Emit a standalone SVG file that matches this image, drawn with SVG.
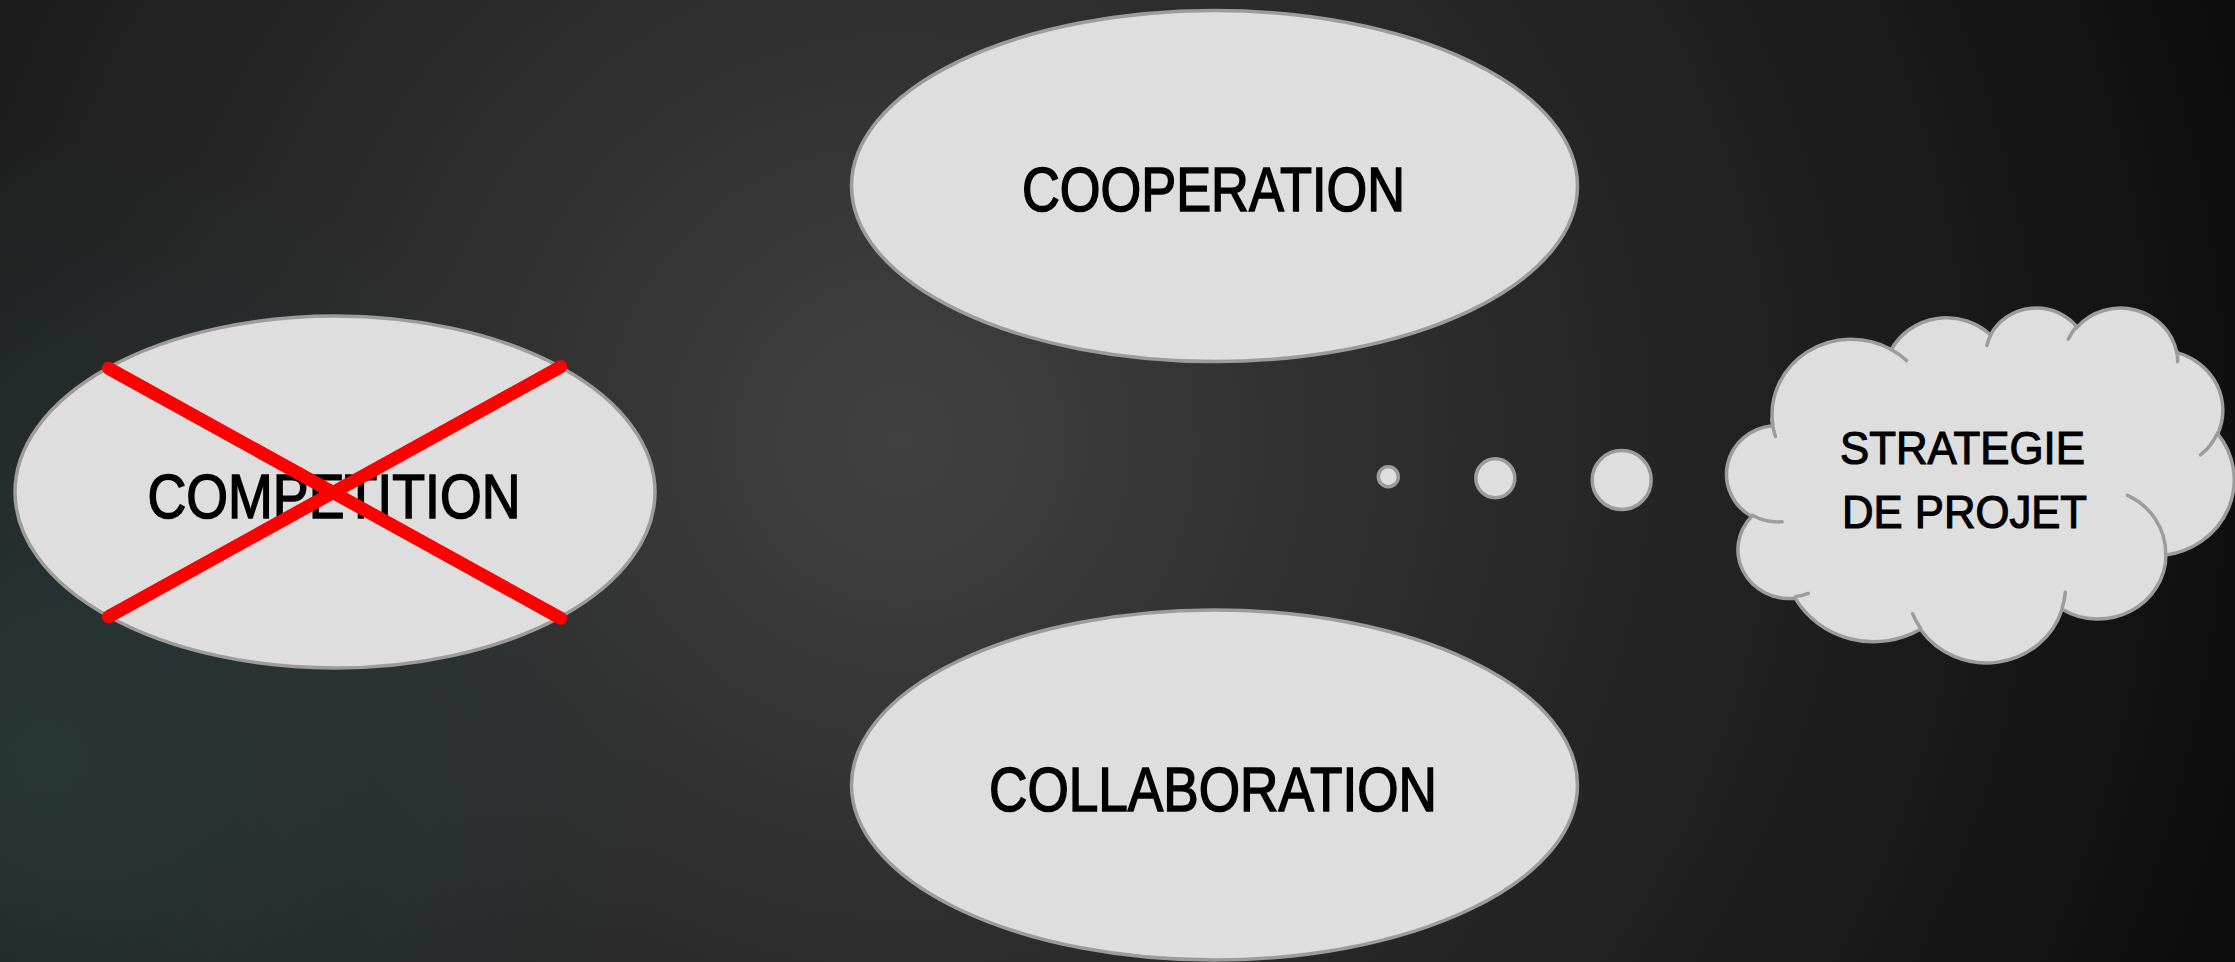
<svg xmlns="http://www.w3.org/2000/svg" width="2235" height="962" viewBox="0 0 2235 962">
  <defs>
    <radialGradient id="bg" gradientUnits="userSpaceOnUse" cx="900" cy="440" r="1420">
      <stop offset="0" stop-color="#414141"/>
      <stop offset="0.3" stop-color="#303030"/>
      <stop offset="0.72" stop-color="#1b1b1b"/>
      <stop offset="1" stop-color="#0c0c0c"/>
    </radialGradient>
    <radialGradient id="teal" gradientUnits="userSpaceOnUse" cx="40" cy="760" r="620">
      <stop offset="0" stop-color="#2c3e3e" stop-opacity="0.75"/>
      <stop offset="0.6" stop-color="#2c3e3e" stop-opacity="0.3"/>
      <stop offset="1" stop-color="#2c3e3e" stop-opacity="0"/>
    </radialGradient>
    <style>
      .shape { fill: #dedede; stroke: #9c9c9c; stroke-width: 3.5; }
      .crease { fill: none; stroke: #9c9c9c; stroke-width: 3.5; vector-effect: non-scaling-stroke; stroke-linecap: round; }
      .cloudfill { fill: #dedede; stroke: #9c9c9c; stroke-width: 3.5; vector-effect: non-scaling-stroke; }
      .lbl { font-family: "Liberation Sans Narrow", "Liberation Sans", Arial, sans-serif; font-size: 63px; fill: #000000; stroke: #000000; stroke-width: 1.6; text-anchor: middle; }
      .lbl2 { font-family: "Liberation Sans Narrow", "Liberation Sans", Arial, sans-serif; font-size: 47px; fill: #000000; stroke: #000000; stroke-width: 1.2; text-anchor: middle; }
      .cross { stroke: #ff0000; stroke-width: 13; stroke-linecap: round; fill: none; }
    </style>
  </defs>

  <rect x="0" y="0" width="2235" height="962" fill="url(#bg)"/>
  <rect x="0" y="0" width="2235" height="962" fill="url(#teal)"/>

  <g id="connectors"></g>

  <g id="cooperation">
    <ellipse class="shape" cx="1214.5" cy="186" rx="363" ry="175.5"/>
    <text class="lbl" x="1213.5" y="211" textLength="383" lengthAdjust="spacingAndGlyphs">COOPERATION</text>
  </g>

  <g id="collaboration">
    <ellipse class="shape" cx="1214.5" cy="785" rx="363" ry="175"/>
    <text class="lbl" x="1213" y="811" textLength="448" lengthAdjust="spacingAndGlyphs">COLLABORATION</text>
  </g>

  <g id="competition">
    <ellipse class="shape" cx="335" cy="492" rx="320" ry="176"/>
    <text class="lbl" x="334" y="518" textLength="373" lengthAdjust="spacingAndGlyphs">COMPETITION</text>
    <g id="cross-out">
      <line class="cross" x1="108.4" y1="368.3" x2="560.7" y2="618.3"/>
      <line class="cross" x1="560.7" y1="366.7" x2="108.4" y2="616.7"/>
    </g>
  </g>

  <g id="strategie">
    <g id="thought-dots">
      <circle class="shape" cx="1388.3" cy="476.7" r="10" stroke-width="3"/>
      <circle class="shape" cx="1495.3" cy="478.3" r="19.5" stroke-width="3"/>
      <circle class="shape" cx="1621.7" cy="480" r="29.5" stroke-width="3.5"/>
    </g>
    <g transform="translate(1727,306.8) scale(0.011736,0.008214)">
      <path class="cloudfill" d="M 3900 14370 A 6753 9190 0 0 1 14004.8 5202.0 A 5333 7267 0 0 1 22457.1 3434.1 A 4365 5945 0 0 1 29834.2 2484.4 A 4857 6595 0 0 1 38318.6 5581.0 A 5333 7273 0 0 1 41819.1 15464.9 A 6775 9220 0 0 1 37404.4 30206.7 A 5785 7867 0 0 1 28555.7 36816.6 A 6752 9215 0 0 1 16480.3 39267.1 A 7720 10543 0 0 1 5802.2 35472.0 A 4360 5936 0 0 1 2105.0 25526.6 A 4345 5945 0 0 1 3854.8 14482.9 Z"/>
      <path class="crease" d="M 4693 26177 A 4345 5945 0 0 1 2160.1 25380.1 M 6928 34899 A 4360 5936 0 0 1 5816.4 35283.8 M 16478 39090 A 6752 9215 0 0 1 15810.3 37349.9 M 28827 34751 A 6752 9215 0 0 1 28560.2 36660.8 M 34129 22954 A 5785 7867 0 0 1 37380.7 30089.9 M 41798 15354 A 5333 7273 0 0 1 40349.4 18030.7 M 38324 5426 A 4857 6595 0 0 1 38400.4 6689.5 M 29078 3952 A 4857 6595 0 0 1 29820.4 2339.1 M 22141 4720 A 4365 5945 0 0 1 22500.4 3328.7 M 14000 5192 A 6753 9190 0 0 1 15302.2 6543.2 M 4127 15789 A 6753 9190 0 0 1 3805.9 13659.4"/>
    </g>
    <text class="lbl2" x="1962.5" y="464" textLength="245" lengthAdjust="spacingAndGlyphs">STRATEGIE</text>
    <text class="lbl2" x="1964.5" y="528" textLength="245" lengthAdjust="spacingAndGlyphs">DE PROJET</text>
  </g>
</svg>
